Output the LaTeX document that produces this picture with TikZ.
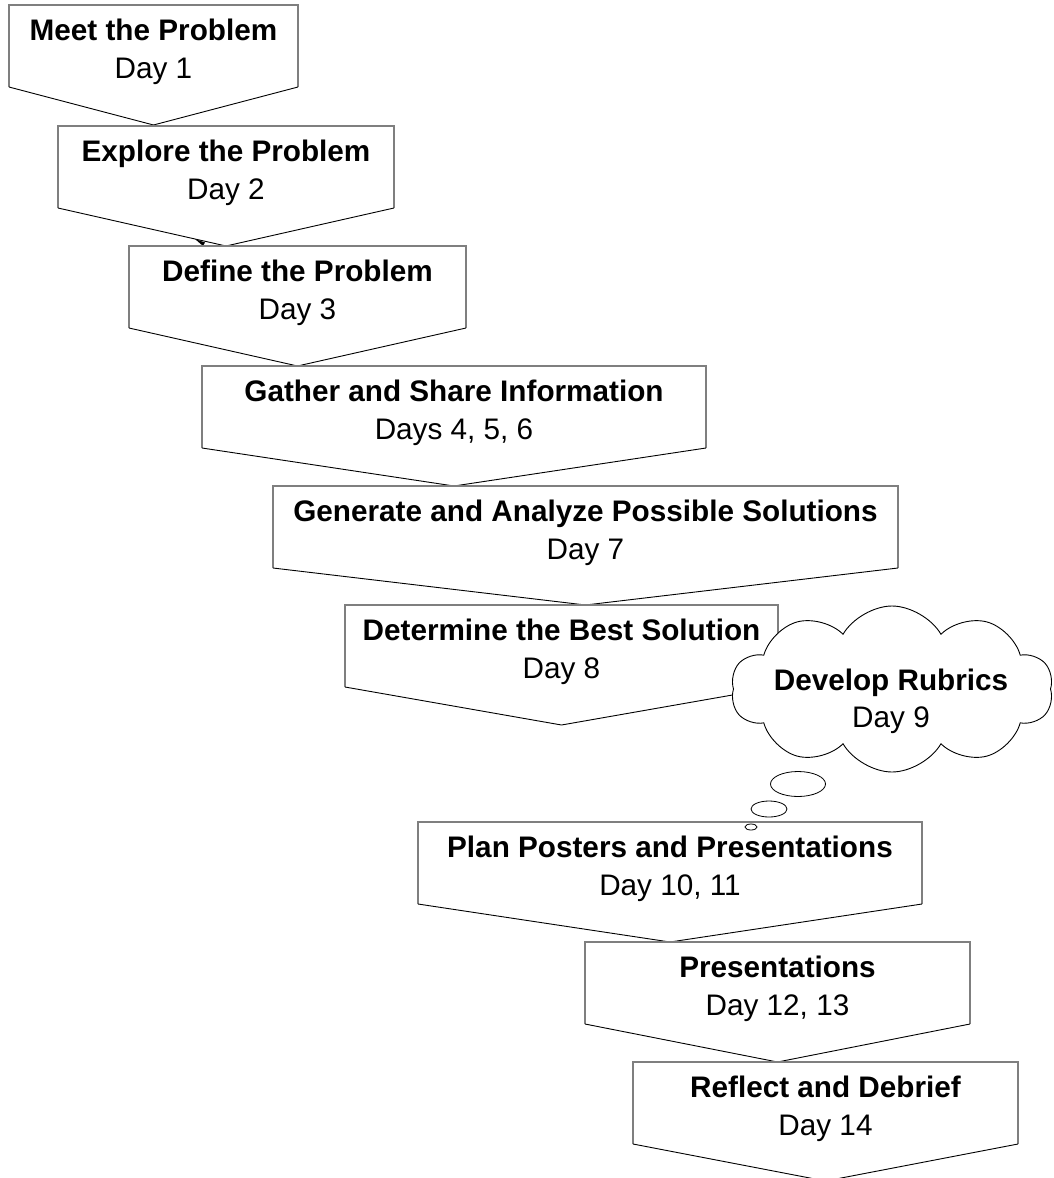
\documentclass[tikz,border=0pt]{standalone}
\usepackage{fontspec}
\setmainfont{Liberation Sans}
\usetikzlibrary{shapes.symbols}
\definecolor{boxgray}{HTML}{7F7F7F}

\begin{document}
\begin{tikzpicture}[x=1pt,y=-1pt,
  boxline/.style={draw=boxgray,line width=1.3pt},
  vline/.style={draw=black,line width=0.9pt},
  ttl/.style={font=\fontsize{29.7}{35}\bfseries,inner sep=0pt,text height=21.4pt,text depth=0pt},
  dayl/.style={font=\fontsize{29.7}{35}\selectfont,inner sep=0pt,text height=21.4pt,text depth=0pt}]
  \useasboundingbox[fill=white] (0,0) rectangle (1054,1178);

  \draw[boxline] (9,87) -- (9,5) -- (298,5) -- (298,87);
  \draw[vline] (9,87) -- (153.5,125) -- (298,87);
  \node[ttl] (t1) at (153.5,30) {Meet the Problem};
  \node[dayl] (d1) at (153.5,68) {Day 1};

  \draw[boxline] (58,208) -- (58,126) -- (394,126) -- (394,208);
  \draw[vline] (58,208) -- (226,246) -- (394,208);
  \fill (195,239) -- (205,242.5) -- (203,246) -- cycle;
  \node[ttl] (t2) at (226,151) {Explore the Problem};
  \node[dayl] (d2) at (226,189) {Day 2};

  \draw[boxline] (129,328) -- (129,246) -- (466,246) -- (466,328);
  \draw[vline] (129,328) -- (297.5,366) -- (466,328);
  \node[ttl] (t3) at (297.5,271) {Define the Problem};
  \node[dayl] (d3) at (297.5,309) {Day 3};

  \draw[boxline] (202,448) -- (202,366) -- (706,366) -- (706,448);
  \draw[vline] (202,448) -- (454,486) -- (706,448);
  \node[ttl] (t4) at (454,391) {Gather and Share Information};
  \node[dayl] (d4) at (454,429) {Days 4, 5, 6};

  \draw[boxline] (273,568) -- (273,486) -- (898,486) -- (898,568);
  \draw[vline] (273,568) -- (585.5,605) -- (898,568);
  \node[ttl] (t5) at (585.5,511) {Generate and Analyze Possible Solutions};
  \node[dayl] (d5) at (585.5,549) {Day 7};

  \draw[boxline] (345,687) -- (345,605) -- (778,605) -- (778,687);
  \draw[vline] (345,687) -- (561.5,725) -- (778,687);
  \node[ttl] (t6) at (561.5,630) {Determine the Best Solution};
  \node[dayl] (d6) at (561.5,668) {Day 8};

  \draw[boxline] (418,904) -- (418,822) -- (922,822) -- (922,904);
  \draw[vline] (418,904) -- (670,942) -- (922,904);
  \node[ttl] (t7) at (670,847) {Plan Posters and Presentations};
  \node[dayl] (d7) at (670,885) {Day 10, 11};

  \draw[boxline] (585,1024) -- (585,942) -- (970,942) -- (970,1024);
  \draw[vline] (585,1024) -- (777.5,1062) -- (970,1024);
  \node[ttl] (t8) at (777.5,967) {Presentations};
  \node[dayl] (d8) at (777.5,1005) {Day 12, 13};

  \draw[boxline] (633,1144) -- (633,1062) -- (1018,1062) -- (1018,1144);
  \draw[vline] (633,1144) -- (825.5,1181) -- (1018,1144);
  \node[ttl] (t9) at (825.5,1087) {Reflect and Debrief};
  \node[dayl] (d9) at (825.5,1125) {Day 14};

  \node[cloud,draw,fill=white,line width=0.9pt,cloud puffs=10,cloud puff arc=120,aspect=2,
    minimum width=322pt,minimum height=166pt] (rubric) at (892,689) {};
  \node[ttl] (t10) at (891,680) {Develop Rubrics};
  \node[dayl] (d10) at (891,717) {Day 9};
  \draw[line width=0.8pt,fill=white] (798,784) ellipse [x radius=27.5,y radius=12.5];
  \draw[line width=0.8pt,fill=white] (769,809) ellipse [x radius=18,y radius=8];
  \draw[line width=0.8pt,fill=white] (751,827) ellipse [x radius=6,y radius=3];
\end{tikzpicture}
\end{document}
